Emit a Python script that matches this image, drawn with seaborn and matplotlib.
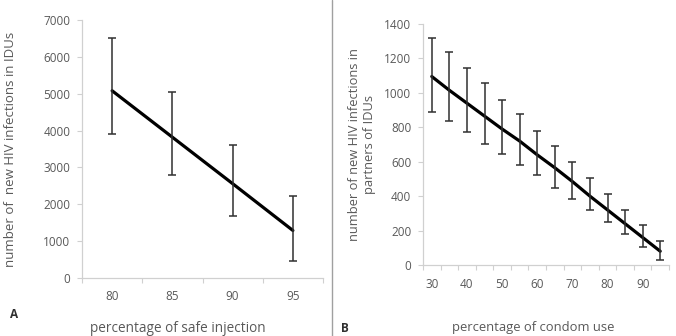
import matplotlib
matplotlib.use('Agg')
import matplotlib.pyplot as plt
import seaborn as sns
import numpy as np
import pandas as pd

# ── Data ─────────────────────────────────────────────────────────────────────
safe_inj = [80, 85, 90, 95]
idu_new = [5080, 3820, 2560, 1290]
idu_low = [3900, 2800, 1680, 450]
idu_high = [6500, 5050, 3620, 2220]

condom = [30, 35, 40, 45, 50, 55, 60, 65, 70, 75, 80, 85, 90, 95]
partner_new = [1095, 1015, 940, 865, 790, 720, 640, 565, 485, 400, 320, 240, 160, 80]
partner_low = [890, 835, 770, 705, 645, 580, 520, 450, 385, 318, 250, 178, 105, 30]
partner_high = [1320, 1235, 1145, 1055, 960, 875, 780, 690, 600, 505, 412, 318, 230, 140]

# ── Style ────────────────────────────────────────────────────────────────────
sns.set_theme(style='white')
plt.rcParams['font.family'] = ['Open Sans', 'DejaVu Sans']
TXT = '#595959'
AXC = '#d0d0d0'
W, H = 676, 336


def excel_axes(ax, cats, label_every, ymax, ystep):
    n = len(cats)
    ax.set_xlim(-0.5, n - 0.5)
    ax.set_ylim(0, ymax)
    ax.set_yticks(np.arange(0, ymax + 1, ystep))
    ax.set_yticklabels([f"{int(v)}" for v in np.arange(0, ymax + 1, ystep)],
                       fontsize=8.5, color=TXT)
    # category labels, tick marks between categories
    ax.set_xticks(range(0, n, label_every))
    ax.set_xticklabels([str(c) for c in cats[::label_every]], fontsize=8.5, color=TXT)
    ax.tick_params(axis='x', length=0, pad=9)
    ax.set_xticks(np.arange(-0.5, n, 1), minor=True)
    ax.tick_params(axis='x', which='minor', length=3.5, width=0.8, color=AXC, direction='out', bottom=True)
    ax.tick_params(axis='y', length=3.5, width=0.8, color=AXC, direction='out', left=True, pad=5)
    for s in ['top', 'right']:
        ax.spines[s].set_visible(False)
    for s in ['left', 'bottom']:
        ax.spines[s].set_color(AXC)
        ax.spines[s].set_linewidth(0.9)
    ax.set_facecolor('white')


def panel(ax, cats, mid, low, high):
    pos = np.arange(len(cats))
    df = pd.DataFrame({'pos': pos, 'val': mid})
    sns.lineplot(data=df, x='pos', y='val', ax=ax, color='black', linewidth=2.3)
    err = np.array([np.array(mid) - np.array(low), np.array(high) - np.array(mid)])
    ax.errorbar(pos, mid, yerr=err, fmt='none', ecolor='#303030',
                elinewidth=1.1, capsize=2.8, capthick=1.1)
    ax.set_xlabel('')
    ax.set_ylabel('')


fig = plt.figure(figsize=(W / 100, H / 100), dpi=100)
fig.patch.set_facecolor('white')

axA = fig.add_axes([82 / W, (H - 278) / H, 241 / W, 258 / H])
panel(axA, safe_inj, idu_new, idu_low, idu_high)
excel_axes(axA, safe_inj, 1, 7000, 1000)

axB = fig.add_axes([423 / W, (H - 265) / H, 246 / W, 241 / H])
panel(axB, condom, partner_new, partner_low, partner_high)
excel_axes(axB, condom, 2, 1400, 200)

# separator line
fig.add_artist(plt.Line2D([332 / W, 332 / W], [0, 1], color='#a0a0a0', linewidth=1.0))

# axis titles
fig.text(11 / W, 0.5 * (H - 278 + H - 20) / H, 'number of  new HIV infections in IDUs',
         rotation=90, ha='center', va='center', fontsize=9.5, color=TXT)
fig.text(178 / W, 1 - 328 / H, 'percentage of safe injection',
         ha='center', va='center', fontsize=9.8, color=TXT)
fig.text(362 / W, 0.5 * (H - 265 + H - 24) / H, 'number of new HIV infections in\npartners of IDUs',
         rotation=90, ha='center', va='center', fontsize=9.3, color=TXT, linespacing=1.15)
fig.text(533 / W, 1 - 328 / H, 'percentage of condom use',
         ha='center', va='center', fontsize=9.4, color=TXT)

fig.text(10 / W, 1 - 315 / H, 'A', ha='left', va='center', fontsize=8.5,
         fontweight='bold', color='#303030')
fig.text(341 / W, 1 - 328 / H, 'B', ha='left', va='center', fontsize=8.5,
         fontweight='bold', color='#303030')

fig.savefig('out.png', dpi=100, facecolor='white')
